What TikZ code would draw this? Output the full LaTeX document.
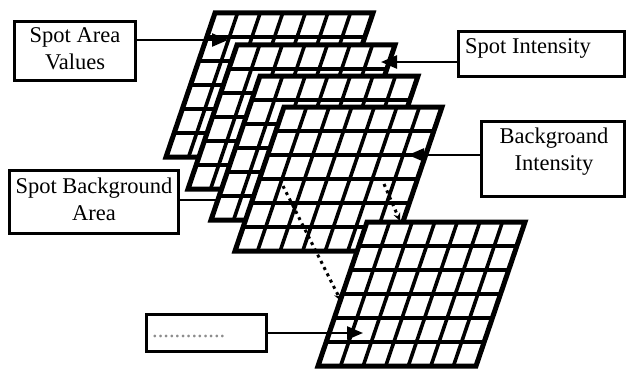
\documentclass[tikz,border=0pt]{standalone}
\usepackage{fontspec}
\setmainfont{Liberation Serif}
\usetikzlibrary{arrows.meta}
\tikzset{
  gridin/.style={line width=3.6pt, black},
  gridout/.style={line width=5pt, black, line join=miter},
  box/.style={draw, line width=2.8pt, inner sep=0pt, fill=white},
  txt/.style={inner sep=0pt, font=\fontsize{22.5pt}{27pt}\selectfont},
  conn/.style={line width=2.4pt, -{Triangle[length=16pt,width=13pt]}},
  dotconn/.style={line width=3pt, dash pattern=on 3pt off 4pt, -{Stealth[length=8pt,width=7pt]}},
}
\newcommand\mygrid[3]{%
  \begin{scope}[shift={(#2,#3)}]
    \fill[white] (0,0) -- (158,0) -- (109,144) -- (-49,144) -- cycle;
    \foreach \i in {1,...,6} \draw[gridin] ({158*\i/7},0) -- ({158*\i/7-49},144);
    \foreach \j in {1,...,5} \draw[gridin] ({-49*\j/6},{144*\j/6}) -- ({158-49*\j/6},{144*\j/6});
    \draw[gridout] (0,0) -- (158,0) -- (109,144) -- (-49,144) -- cycle;
    \coordinate (#1) at (0,0);
  \end{scope}}
\begin{document}
\begin{tikzpicture}[x=1pt,y=-1pt]
  \useasboundingbox (0,0) rectangle (628,369);
  % boxes
  \node[box, minimum width=121pt, minimum height=59pt] (sav) at (75,51) {};
  \node[txt, anchor=base] (sav1) at (75,42) {Spot Area};
  \node[txt, anchor=base] (sav2) at (75,70) {Values};
  \node[box, minimum width=166pt, minimum height=45pt] (si) at (541.5,54) {};
  \node[txt, anchor=base west] (si1) at (465,53) {Spot Intensity};
  \node[box, minimum width=143pt, minimum height=75pt] (bi) at (553,159) {};
  \node[txt, anchor=base] (bi1) at (554,143) {Backgroand};
  \node[txt, anchor=base] (bi2) at (554,170) {Intensity};
  \node[box, minimum width=169pt, minimum height=63pt] (sba) at (94,202) {};
  \node[txt, anchor=base] (sba1) at (94,193) {Spot Background};
  \node[txt, anchor=base] (sba2) at (94,220) {Area};
  \node[box, minimum width=120pt, minimum height=37pt] (dbx) at (206.5,333) {};
  \node[txt, anchor=base west, text=black!45] (dbx1) at (152,337) {.............};
  % target coordinates
  \coordinate (t1) at (228,40);
  \coordinate (t2) at (381,62);
  \coordinate (t3) at (408,155);
  \coordinate (t4) at (234,200);
  \coordinate (t5) at (363,333);
  % grids
  \mygrid{g1}{215}{13}
  \mygrid{g2}{237}{45}
  \draw[conn] (sba.east |- t4) -- (t4);
  \mygrid{g3}{260}{76}
  \mygrid{g4}{284}{107}
  \coordinate (d1s) at (283,186);
  \coordinate (d2s) at (384,184);
  \mygrid{g5}{367}{222}
  \coordinate (d1e) at (341,301);
  \coordinate (d2e) at (400,221);
  \draw[dotconn] (d1s) -- (d1e);
  \draw[dotconn] (d2s) -- (d2e);
  % connectors
  \draw[conn] (sav.east |- t1) -- (t1);
  \draw[conn] (si.west |- t2) -- (t2);
  \draw[conn] (bi.west |- t3) -- (t3);
  \draw[conn] (dbx.east |- t5) -- (t5);
\end{tikzpicture}
\end{document}
